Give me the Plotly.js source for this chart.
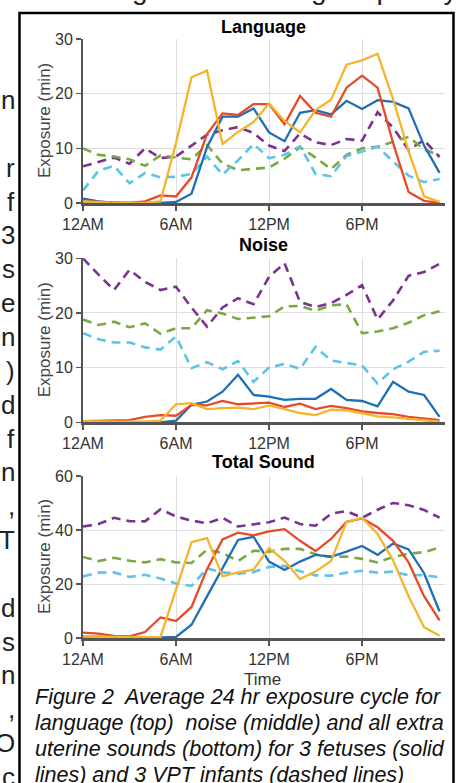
<!DOCTYPE html>
<html><head><meta charset="utf-8">
<script src="https://cdn.plot.ly/plotly-3.0.1.min.js"></script>
<style>html,body{margin:0;padding:0;background:#fff;}#chart{width:459px;height:783px;}</style>
</head><body><div id="chart"></div>
<script>
const hours = [0,1,2,3,4,5,6,7,8,9,10,11,12,13,14,15,16,17,18,19,20,21,22,23];
const tickVals = [0,6,12,18];
const tickText = ['12AM','6AM','12PM','6PM'];
const panelTitles = ['Language','Noise','Total Sound'];
const seriesNames = ['Infant 1','Infant 2','Infant 3','Fetus 1','Fetus 2','Fetus 3'];

// Language
const langPurple = [6.7,7.5,8.3,7.2,10,8.2,8.5,10.5,12.5,13.3,13.9,12.8,10.5,9.5,12.7,11.1,10.6,11.7,11.4,16.6,13.8,9.7,11.5,8.4];
const langGreen  = [10,8.8,8.5,8,6.8,8.7,8.3,8,10.6,7.2,6,6.2,6.5,8.1,10.2,8.3,6.2,8.8,10,10.3,11.2,12.1,9.8,8.7];
const langCyan   = [2.3,5.9,6.8,3.6,5.5,4.7,4.8,5.3,8.5,5.2,7.8,10.8,8.2,8.8,10.4,5.3,4.9,8.6,9.4,10.3,7.6,5,3.8,4.4];
const langBlue   = [0.8,0.3,0,0,0,0,0.2,1.7,10.2,15.8,15.8,17.3,12.9,11.3,16.5,17,16.2,18.7,17.2,18.8,18.5,17.3,10.5,5.5];
const langRed    = [0.3,0.2,0.1,0,0.3,1.4,1.2,4.7,12.6,16.4,16.1,18.1,18.1,14.4,19.6,16.5,15.8,21.1,23.3,21.1,11,2,0.4,0];
const langYellow = [0.3,0.1,0,0,0,0.3,11,23,24.2,10.8,13,14.8,18.2,15,12.9,17,18.9,25.3,26.1,27.3,19,9.5,1.2,0.2];

// Noise
const noisePurple = [30,27,24.2,27.9,25.7,24.2,24.8,21,17.5,21,22.7,21.6,26.6,29.1,22,21.1,21.8,23.3,25.1,18.8,22.3,26.8,27.5,29];
const noiseGreen  = [18.8,17.8,18.4,17.4,18.1,16.2,17.2,17.2,20.5,19.9,18.9,19.2,19.4,21.2,21.3,20.4,21.4,21.6,16.3,16.6,17.2,18.2,19.6,20.3];
const noiseCyan   = [16.3,15.2,14.6,14.6,13.7,13.3,15.7,9.9,11,9.7,11.2,7.4,10,10.7,9.8,13.8,11.3,10.9,10.4,7.1,9.7,11.1,12.9,13.1];
const noiseBlue   = [0,0,0,0,0,0,0.3,3.2,3.8,5.6,8.7,5,4.7,4.1,4.3,4.3,6.1,4.1,3.9,2.9,7.4,5.6,5,1];
const noiseRed    = [0.2,0.3,0.4,0.4,1,1.3,1.2,3.2,3.1,3.9,3.3,3.5,3.6,2.8,3.4,2.4,3,2.6,2,1.7,1.5,1,0.7,0.4];
const noiseYellow = [0.2,0.1,0.1,0.1,0.1,0.3,3.3,3.5,2.4,2.6,2.7,2.4,3.1,2.4,1.7,1.3,2.3,2.2,1.6,1.1,0.9,0.6,0.3,0.1];

// Total sound
const totPurple = [41.3,42.2,44.5,43.3,43.2,47.7,45,43.5,42.5,44.5,41.3,42,42.9,44.6,42.2,41.6,46,47,44.5,47.5,50,49.2,47.4,44.6];
const totGreen  = [30,28.5,29.7,28.6,28,29.2,28,27.8,32.7,31.5,28.5,32.3,32,33,33,31,30,30.2,29.3,28,30,31.2,31.8,33.5];
const totCyan   = [22.8,24.2,24.3,22.6,23.4,22,20.2,19.3,25.8,24.3,23.8,24.4,26.3,26.7,24.7,23.2,23.1,24.2,24.9,24.2,24.6,23.2,23.3,22.5];
const totBlue   = [0.5,0.4,0.3,0.2,0.2,0.2,0.4,4.9,15.4,26,36.3,37.5,28.3,25.2,28.3,30.8,30.1,32,34.1,30.8,35,32.8,24,9.8];
const totRed    = [2,1.6,0.8,0.6,2.2,7.6,6.3,11.5,25.5,36.5,39,38,39.5,40.3,36,32.2,36.7,43,44.3,41,36,28,15.5,6.5];
const totYellow = [0.5,0.4,0.3,0.3,0.3,0.4,17.8,35.5,37,22.8,24.3,25.3,33.3,28.6,21.8,24.6,28.5,43,44.5,38.5,28.8,15.5,4,0.8];

const captionLines = [
  'Figure 2  Average 24 hr exposure cycle for',
  'language (top)  noise (middle) and all extra',
  'uterine sounds (bottom) for 3 fetuses (solid',
  'lines) and 3 VPT infants (dashed lines)'
];
const sideLetters = ['n','r','f','3','s','e','n',')','d','f','n',',','T','d','s','n',',','O','c'];
const sideLines   = [0,2,3,4,5,6,7,8,9,10,11,12,13,15,16,17,18,19,20];

const W = 459, H = 783;
const colors = ['#7b3290','#7aa843','#5ec3e8','#1f6fb6','#e64b29','#f2b52d'];
const FONT = 'Liberation Sans, Arial, Helvetica, sans-serif';

const panels = [
  [langPurple,langGreen,langCyan,langBlue,langRed,langYellow],
  [noisePurple,noiseGreen,noiseCyan,noiseBlue,noiseRed,noiseYellow],
  [totPurple,totGreen,totCyan,totBlue,totRed,totYellow]
];
const traces = [];
panels.forEach((set, p) => {
  const ax = p === 0 ? '' : String(p+1);
  set.forEach((vals, i) => {
    const dashed = i < 3;
    traces.push({
      x: hours, y: vals, type: 'scatter', mode: 'lines', name: seriesNames[i],
      xaxis: 'x'+ax, yaxis: 'y'+ax, hoverinfo: 'skip', cliponaxis: false,
      line: {color: colors[i], width: dashed ? 2.6 : 2.3, dash: dashed ? '9px,6px' : 'solid'}
    });
  });
});

// pixel geometry
const xL = 83, xR = 445;
const yPix = [[39,203],[258.3,422.3],[476,638]];
const yMax = [30,30,60];
const yDt = [10,10,20];
const layout = {
  width: W, height: H, margin: {l:0,r:0,t:0,b:0}, showlegend: false,
  paper_bgcolor: '#fff', plot_bgcolor: 'rgba(0,0,0,0)',
  font: {family: FONT},
  annotations: [], shapes: []
};
yPix.forEach((yp, p) => {
  const ax = p === 0 ? '' : String(p+1);
  layout['xaxis'+ax] = {
    domain: [xL/W, xR/W], range: [0, 23.35], anchor: 'y'+ax,
    tickvals: tickVals, ticktext: tickText,
    showgrid: true, gridcolor: '#dedede', gridwidth: 1,
    showline: true, linecolor: '#555', linewidth: 2.5,
    ticks: 'outside', ticklen: 5, tickwidth: 1.5, tickcolor: '#555',
    tickfont: {family: FONT, size: 16, color: '#333'}, zeroline: false, fixedrange: true
  };
  layout['yaxis'+ax] = {
    domain: [1-yp[1]/H, 1-yp[0]/H], range: [0, yMax[p]], anchor: 'x'+ax,
    dtick: yDt[p], tick0: 0,
    showgrid: true, gridcolor: '#dedede', gridwidth: 1,
    showline: true, linecolor: '#555', linewidth: 2,
    ticks: 'outside', ticklen: 5, tickwidth: 1.5, tickcolor: '#555',
    tickfont: {family: FONT, size: 16, color: '#333'}, zeroline: false, fixedrange: true
  };
});

function ann(text, px, py, o) {
  o = o || {};
  layout.annotations.push({
    text: text, xref: 'paper', yref: 'paper', x: px/W, y: 1-py/H,
    xanchor: o.xa || 'center', yanchor: o.ya || 'middle', showarrow: false,
    textangle: o.angle || 0, borderpad: 0,
    font: {family: FONT, size: o.size || 16, color: o.color || '#000'}
  });
}
// panel titles
ann('<b>'+panelTitles[0]+'</b>', 263, 27, {size: 18});
ann('<b>'+panelTitles[1]+'</b>', 263, 245, {size: 18});
ann('<b>'+panelTitles[2]+'</b>', 263, 462, {size: 18});
// y titles
yPix.forEach(yp => ann('Exposure (min)', 44, (yp[0]+yp[1])/2, {angle: -90, size: 17, color: '#444'}));
ann('Time', 262, 679, {size: 17, color: '#333'});
// caption
captionLines.forEach((t, i) => ann('<i>'+t+'</i>', 34, 697 + i*26, {xa: 'left', size: 21.5, color: '#111'}));
// side text fragments
sideLetters.forEach((t, i) => ann(t, 16, 100 + sideLines[i]*33.85, {xa: 'right', size: 26, color: '#222'}));
ann('recorded through the following frequency', 458, -10, {xa: 'right', size: 28, color: '#222'});

// frame
layout.shapes.push({type: 'rect', xref: 'paper', yref: 'paper',
  x0: 19.5/W, x1: 453.5/W, y0: -0.05, y1: 1-13/H, line: {color: '#000', width: 2.5}});

Plotly.newPlot('chart', traces, layout, {staticPlot: true, displayModeBar: false});
</script></body></html>
